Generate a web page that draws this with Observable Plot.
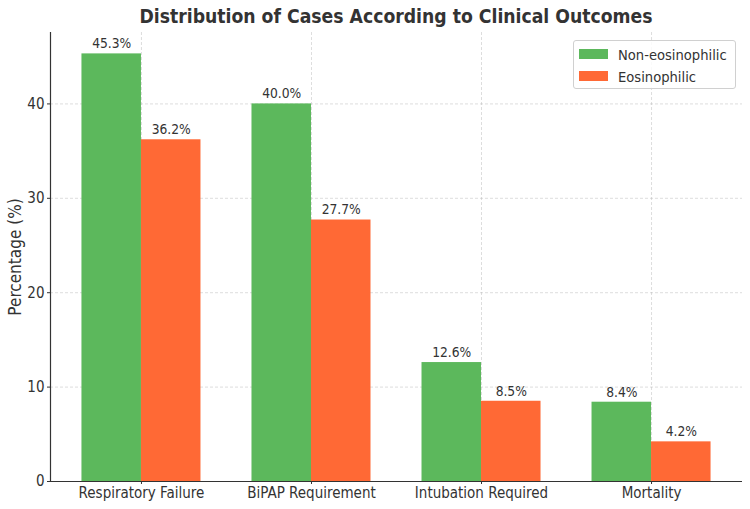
<!DOCTYPE html>
<html>
<head>
<meta charset="utf-8">
<script src="https://cdn.jsdelivr.net/npm/d3@7"></script>
<script src="https://cdn.jsdelivr.net/npm/@observablehq/plot@0.6"></script>
<style>
  html, body { margin: 0; padding: 0; background: #fff; }
  #wrap { position: relative; width: 750px; height: 509px; font-family: "DejaVu Sans Condensed", "DejaVu Sans", sans-serif; }
  #title { position: absolute; left: 50px; width: 692px; top: 5px; text-align: center; font-weight: bold; font-size: 19.2px; color: #333; }
  #legend { position: absolute; left: 573px; top: 40px; width: 161px; height: 47px; border: 1px solid #d0d0d0; border-radius: 3px; background: rgba(255,255,255,0.85); font-size: 14.6px; color: #333; }
  .item { position: absolute; left: 5px; height: 16px; display: flex; align-items: center; }
  .sw { width: 29px; height: 10px; margin-right: 10px; }
</style>
</head>
<body>
<div id="wrap">
  <div id="chart"></div>
  <div id="title"></div>
  <div id="legend"></div>
</div>
<script>
const categories = ["Respiratory Failure", "BiPAP Requirement", "Intubation Required", "Mortality"];
const seriesNames = ["Non-eosinophilic", "Eosinophilic"];
const nonEosinophilic = [45.3, 40.0, 12.6, 8.4];
const eosinophilic = [36.2, 27.7, 8.5, 4.2];
const colors = ["#5cb85c", "#ff6935"];
const yTicks = [0, 10, 20, 30, 40];
const titleText = "Distribution of Cases According to Clinical Outcomes";
const yLabel = "Percentage (%)";

const barW = 0.35;
const rows = [];
[nonEosinophilic, eosinophilic].forEach((vals, j) => {
  vals.forEach((v, i) => {
    const x1 = i - barW + j * barW;
    rows.push({cat: categories[i], series: seriesNames[j], value: v, x1, x2: x1 + barW, xm: x1 + barW / 2});
  });
});

const yMax = d3.max(rows, d => d.value) * 1.05;
const xMin = -barW - 0.05 * (categories.length - 1 + 2 * barW);
const xMax = categories.length - 1 + barW + 0.05 * (categories.length - 1 + 2 * barW);

const font = '"DejaVu Sans Condensed", "DejaVu Sans", sans-serif';

const chart = Plot.plot({
  width: 750,
  height: 509,
  marginLeft: 50,
  marginRight: 8,
  marginTop: 32,
  marginBottom: 28,
  style: {fontFamily: font, fontSize: "15px", color: "#333", background: "#fff"},
  x: {domain: [xMin, xMax], label: null},
  y: {domain: [0, yMax], label: null},
  color: {domain: seriesNames, range: colors},
  marks: [
    Plot.gridX(d3.range(categories.length), {stroke: "#b0b0b0", strokeOpacity: 0.55, strokeDasharray: "3,2", strokeWidth: 0.8}),
    Plot.gridY(yTicks, {stroke: "#b0b0b0", strokeOpacity: 0.55, strokeDasharray: "3,2", strokeWidth: 0.8}),
    Plot.rectY(rows, {x1: "x1", x2: "x2", y1: 0, y2: "value", fill: "series", insetLeft: 0, insetRight: 0}),
    Plot.text(rows, {x: "xm", y: "value", text: d => d.value.toFixed(1) + "%", dy: -10, fontSize: 13.7, fill: "#333"}),
    Plot.axisX({ticks: d3.range(categories.length), tickFormat: i => categories[i], tickSize: 3, fontSize: 15, tickPadding: 3, fill: "#333"}),
    Plot.axisY({ticks: yTicks, tickSize: 3, fontSize: 15, tickPadding: 3, fill: "#333"}),
    Plot.ruleY([0], {stroke: "#333", strokeWidth: 1.2}),
    Plot.ruleX([xMin], {stroke: "#333", strokeWidth: 1.2}),
    Plot.text([yLabel], {frameAnchor: "left", textAnchor: "middle", rotate: -90, dx: -35, fontSize: 17, fill: "#333", text: d => d})
  ]
});
document.getElementById("chart").appendChild(chart);
document.getElementById("title").textContent = titleText;

const legend = document.getElementById("legend");
seriesNames.forEach((name, j) => {
  const it = document.createElement("div");
  it.className = "item";
  it.style.top = (5 + j * 22) + "px";
  const sw = document.createElement("div");
  sw.className = "sw";
  sw.style.background = colors[j];
  const tx = document.createElement("span");
  tx.textContent = name;
  it.appendChild(sw);
  it.appendChild(tx);
  legend.appendChild(it);
});
</script>
</body>
</html>
